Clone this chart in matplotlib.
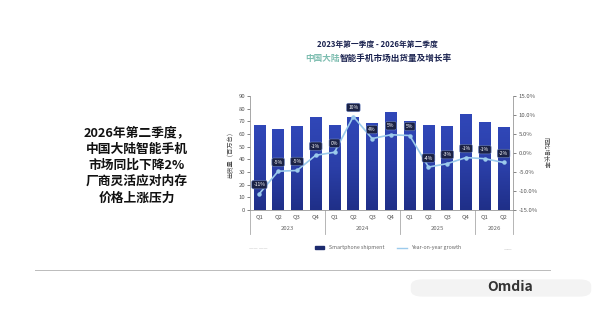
import matplotlib
matplotlib.use("Agg")
import matplotlib.pyplot as plt
import matplotlib.transforms as mtransforms
from matplotlib.patches import Patch, FancyBboxPatch
from matplotlib.lines import Line2D
from matplotlib.colors import LinearSegmentedColormap
import numpy as np

plt.rcParams['font.family'] = ['Noto Sans CJK SC', 'DejaVu Sans']

quarters = ["Q1", "Q2", "Q3", "Q4", "Q1", "Q2", "Q3", "Q4", "Q1", "Q2", "Q3", "Q4", "Q1", "Q2"]
years = ["2023", "2024", "2025", "2026"]
year_counts = [4, 4, 4, 2]
shipments = [67.0, 63.7, 66.3, 73.4, 67.0, 73.5, 68.4, 77.0, 70.5, 67.0, 66.6, 75.8, 69.7, 65.8]
growth = [-10.7, -4.8, -4.6, -0.6, 0.2, 9.6, 3.8, 4.8, 4.6, -3.7, -2.8, -1.2, -1.5, -2.5]
growth_labels = ["-11%", "-5%", "-5%", "-1%", "0%", "10%", "4%", "5%", "5%", "-4%", "-3%", "-1%", "-1%", "-2%"]
left_text = ["2026年第二季度，", "中国大陆智能手机", "市场同比下降2%", "厂商灵活应对内存", "价格上涨压力"]

W, H = 600, 310
fig = plt.figure(figsize=(6, 3.1), dpi=100)
fig.patch.set_facecolor("white")

def fx(px):
    return px / W

def fy(py):
    return 1 - py / H

# left headline text
for i, line in enumerate(left_text):
    fig.text(fx(137), fy(133 + 16.2 * i), line, ha="center", va="center",
             fontsize=9.2, fontweight="bold", color="#111111")

# chart title
fig.text(fx(377), fy(44), "2023年第一季度 - 2026年第二季度", ha="center", va="center",
         fontsize=5.6, fontweight="bold", color="#1b2350")
fig.text(fx(340), fy(58), "中国大陆", ha="right", va="center",
         fontsize=6.2, fontweight="bold", color="#7dbdb0")
fig.text(fx(340), fy(58), "智能手机市场出货量及增长率", ha="left", va="center",
         fontsize=6.2, fontweight="bold", color="#1b2350")

ax = fig.add_axes([fx(250), fy(210), fx(513) - fx(250), (210 - 96) / H])
x = np.arange(len(quarters))
bars = ax.bar(x, shipments, width=0.62, color="#2c40ab", zorder=2)

# vertical gradient in each bar
grad = np.linspace(0, 1, 64).reshape(-1, 1)
cmap = LinearSegmentedColormap.from_list("b", ["#3047b8", "#2b3fa8", "#1f2f88"])
for b in bars:
    x0, w, h = b.get_x(), b.get_width(), b.get_height()
    im = ax.imshow(grad, extent=[x0, x0 + w, 0, h], aspect="auto", cmap=cmap,
                   origin="upper", zorder=2.1)
    im.set_clip_path(b)

ax.set_xlim(-0.5, 13.5)
ax.set_ylim(0, 90)
ax.set_yticks(np.arange(0, 91, 10))
ax.set_xticks(x)
ax.set_xticklabels(quarters)
ax.tick_params(axis="y", labelsize=4.3, colors="#555555", length=2, width=0.5, pad=1.5)
ax.tick_params(axis="x", labelsize=4.3, colors="#555555", length=0, pad=3)
for s in ["top", "right"]:
    ax.spines[s].set_visible(False)
for s in ["left", "bottom"]:
    ax.spines[s].set_color("#999999")
    ax.spines[s].set_linewidth(0.6)
ax.set_ylabel("出货量（百万台）", fontsize=4.5, color="#444444", labelpad=3)

ax2 = ax.twinx()
ax2.set_ylim(-15, 15)
ax2.set_yticks(np.arange(-15, 16, 5))
ax2.set_yticklabels(["%.1f%%" % v for v in np.arange(-15, 16, 5)])
ax2.tick_params(axis="y", labelsize=4.3, colors="#555555", length=2, width=0.5, pad=2)
for s in ["top", "left", "bottom"]:
    ax2.spines[s].set_visible(False)
ax2.spines["right"].set_color("#999999")
ax2.spines["right"].set_linewidth(0.6)
ax2.set_ylabel("同比增长率", fontsize=4.5, color="#444444", rotation=-90, labelpad=8)

ax2.plot(x, growth, color="#9ccbec", lw=1.2, marker="o", ms=2.2, zorder=3)
for xi, g, lab in zip(x, growth, growth_labels):
    ax2.annotate(lab, (xi, g), xytext=(0, 6.5), textcoords="offset points",
                 ha="center", va="center", fontsize=3.6, color="white", zorder=4,
                 bbox=dict(boxstyle="round,pad=0.35", fc="#1b2245", ec="#6f86c6", lw=0.4))

# year labels and separators
trans = mtransforms.blended_transform_factory(ax.transData, ax.transAxes)
start = 0
seps = [-0.5]
for yr, cnt in zip(years, year_counts):
    center = start + (cnt - 1) / 2
    ax.text(center, -0.16, yr, transform=trans, ha="center", va="center",
            fontsize=4.3, color="#666666")
    start += cnt
    seps.append(start - 0.5)
for s in seps:
    ax.plot([s, s], [0, -0.21], transform=trans, color="#aaaaaa", lw=0.6, clip_on=False)

# legend
handles = [Patch(color="#1c2a6e", label="Smartphone shipment"),
           Line2D([0], [0], color="#9ccbec", lw=1, label="Year-on-year growth")]
fig.legend(handles=handles, loc="center", bbox_to_anchor=(fx(388), fy(248)), ncol=2,
           fontsize=3.8, frameon=False, handlelength=1.8, handleheight=0.6,
           columnspacing=2.5, labelcolor="#666666")
fig.text(fx(258), fy(248), "—— ——", fontsize=3.5, color="#bbbbbb", ha="center", va="center")
fig.text(fx(508), fy(250), "——", fontsize=3.5, color="#bbbbbb", ha="center", va="center")

# bottom separator line
fig.add_artist(Line2D([fx(35), fx(550)], [fy(270), fy(270)], color="#bbbbbb", lw=0.7))

# watermark bar and logo
fig.add_artist(FancyBboxPatch((fx(412), fy(296)), fx(178), (16) / H,
                              boxstyle="round,pad=0.002,rounding_size=0.02",
                              fc="#f3f3f3", ec="none", transform=fig.transFigure))
fig.text(fx(510), fy(287), "Omdia", fontsize=10, fontweight="bold", color="#333333",
         ha="center", va="center")

fig.savefig("out.png", dpi=100, facecolor="white")
